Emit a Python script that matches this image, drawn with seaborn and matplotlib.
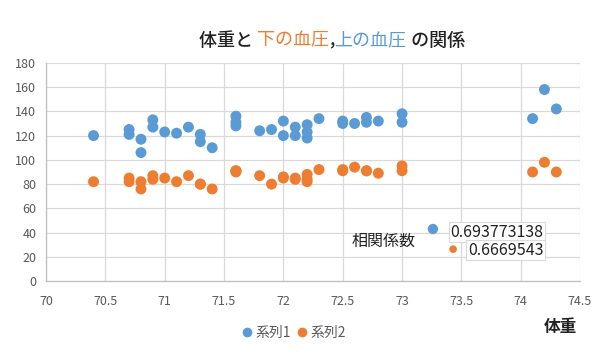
import matplotlib
matplotlib.use("Agg")
import matplotlib.pyplot as plt
import seaborn as sns
import pandas as pd

weight_upper = [70.4, 70.7, 70.7, 70.8, 70.8, 70.9, 70.9, 71.0, 71.1, 71.2, 71.3, 71.3, 71.4,
                71.6, 71.6, 71.6, 71.8, 71.9, 72.0, 72.0, 72.1, 72.1, 72.2, 72.2, 72.2, 72.3,
                72.5, 72.5, 72.6, 72.7, 72.7, 72.8, 73.0, 73.0, 74.1, 74.2, 74.3]
upper_bp = [120, 125, 121, 117, 106, 133, 127, 123, 122, 127, 121, 115, 110,
            136, 131, 128, 124, 125, 132, 120, 127, 120, 129, 123, 118, 134,
            132, 130, 130, 135, 131, 132, 138, 131, 134, 158, 142]
weight_lower = [70.4, 70.7, 70.7, 70.8, 70.8, 70.9, 70.9, 71.0, 71.1, 71.2, 71.3, 71.3, 71.4,
                71.6, 71.6, 71.6, 71.8, 71.9, 72.0, 72.0, 72.1, 72.1, 72.2, 72.2, 72.2, 72.3,
                72.5, 72.5, 72.6, 72.7, 72.7, 72.8, 73.0, 73.0, 74.1, 74.2, 74.3]
lower_bp = [82, 85, 82, 82, 76, 87, 84, 85, 82, 87, 80, 80, 76,
            91, 90, 91, 87, 80, 86, 85, 85, 84, 88, 84, 82, 92,
            92, 91, 94, 91, 91, 89, 95, 91, 90, 98, 90]
series_names = ["系列1", "系列2"]
corr_values = ["0.693773138", "0.6669543"]
x_ticks = [70, 70.5, 71, 71.5, 72, 72.5, 73, 73.5, 74, 74.5]
y_ticks = [0, 20, 40, 60, 80, 100, 120, 140, 160, 180]

blue = "#5B9BD5"
orange = "#ED7D31"

df = pd.concat([
    pd.DataFrame({"体重": weight_upper, "血圧": upper_bp, "系列": series_names[0]}),
    pd.DataFrame({"体重": weight_lower, "血圧": lower_bp, "系列": series_names[1]}),
], ignore_index=True)

sns.set_theme(style="white")
plt.rcParams["font.family"] = ["Noto Sans CJK JP", "DejaVu Sans"]

fig = plt.figure(figsize=(5.98, 3.55), dpi=100)
ax = fig.add_axes([0.077, 0.208, 0.893, 0.615])

sns.scatterplot(data=df, x="体重", y="血圧", hue="系列",
                palette=[blue, orange], s=62, edgecolor="none", ax=ax, legend=False, zorder=3)

ax.set_xlim(70, 74.5)
ax.set_ylim(0, 180)
ax.set_xticks(x_ticks)
ax.set_xticklabels([f"{t:g}" for t in x_ticks])
ax.set_yticks(y_ticks)
ax.grid(True, color="#D9D9D9", linewidth=0.9, zorder=0)
ax.set_axisbelow(True)
for s in ["top", "right"]:
    ax.spines[s].set_visible(False)
for s in ["left", "bottom"]:
    ax.spines[s].set_color("#BFBFBF")
    ax.spines[s].set_linewidth(0.9)
ax.tick_params(axis="both", length=0, colors="#595959", labelsize=9, pad=7)
ax.tick_params(axis="x", pad=10)
ax.set_xlabel("")
ax.set_ylabel("")

# Title with colored parts
parts = [("体重と ", "#222222"), ("下の血圧", orange), (",", "#222222"),
         ("上の血圧", blue), (" の関係", "#222222")]
renderer = fig.canvas.get_renderer()
texts = []
for txt, col in parts:
    t = fig.text(0, 0.885, txt, color=col, fontsize=13, ha="left", va="center",
                 fontweight="medium" if col == "#222222" else "normal")
    texts.append(t)
widths = [t.get_window_extent(renderer).width / fig.bbox.width for t in texts]
total = sum(widths)
start = 0.555 - total / 2
for t, w in zip(texts, widths):
    t.set_x(start)
    start += w

# Correlation annotation
ax.text(73.11, 33, "相関係数", fontsize=11.5, color="#222222", ha="right", va="center", zorder=5)
ax.text(74.19, 40.4, corr_values[0], fontsize=11.5, color="#222222", ha="right", va="center",
        zorder=5, bbox=dict(boxstyle="square,pad=0.1", facecolor="white", edgecolor="#D9D9D9", linewidth=0.8))
ax.text(74.19, 25.6, corr_values[1], fontsize=11.5, color="#222222", ha="right", va="center",
        zorder=5, bbox=dict(boxstyle="square,pad=0.1", facecolor="white", edgecolor="#D9D9D9", linewidth=0.8))
ax.scatter([73.26], [43], s=55, color=blue, edgecolor="none", zorder=6, clip_on=False)
ax.scatter([73.43], [26.4], s=30, color=orange, edgecolor="none", zorder=6, clip_on=False)

# X axis title
fig.text(0.937, 0.08, "体重", fontsize=12, fontweight="bold", color="#222222", ha="center", va="center")

# Legend
from matplotlib.lines import Line2D
handles = [Line2D([], [], marker="o", linestyle="", markersize=7, color=blue, markeredgewidth=0),
           Line2D([], [], marker="o", linestyle="", markersize=7, color=orange, markeredgewidth=0)]
leg = fig.legend(handles, series_names, loc="center", bbox_to_anchor=(0.49, 0.062), ncol=2,
                 frameon=False, fontsize=10, handletextpad=0.1, columnspacing=0.3, handlelength=1.0)
for t in leg.get_texts():
    t.set_color("#595959")

fig.savefig("out.png", dpi=100, facecolor="white")
